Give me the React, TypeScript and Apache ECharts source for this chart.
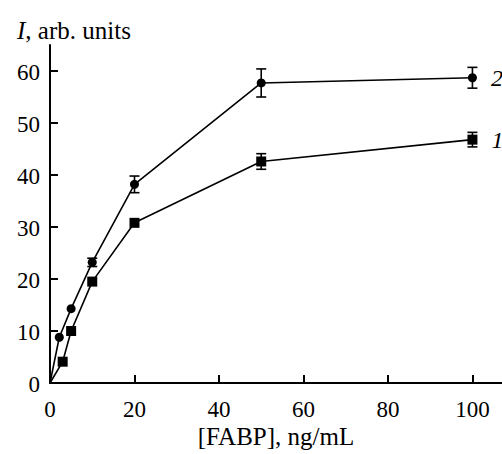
import React, { useEffect, useRef } from "react";
import * as echarts from "echarts";

const xTicks = [0, 20, 40, 60, 80, 100];
const yTicks = [0, 10, 20, 30, 40, 50, 60];

// Curve 1 (squares)
const x1 = [3, 5, 10, 20, 50, 100];
const y1 = [4.1, 10.0, 19.5, 30.8, 42.6, 46.8];
const e1 = [0, 0, 0, 0, 1.5, 1.4];

// Curve 2 (circles)
const x2 = [2.2, 5, 10, 20, 50, 100];
const y2 = [8.8, 14.3, 23.2, 38.2, 57.7, 58.7];
const e2 = [0, 0, 0.8, 1.6, 2.7, 2.0];

const FONT = "Liberation Serif";

function lineData(xs: number[], ys: number[], label: string) {
  const d: any[] = [{ value: [0, 0], symbol: "none" }];
  xs.forEach((x, i) => {
    const item: any = { value: [x, ys[i]] };
    if (i === xs.length - 1) {
      item.label = {
        show: true,
        formatter: label,
        position: "right",
        distance: 14,
        fontFamily: FONT,
        fontStyle: "italic",
        fontSize: 24,
        color: "#000",
      };
    }
    d.push(item);
  });
  return d;
}

function errData(xs: number[], ys: number[], es: number[]) {
  return xs
    .map((x, i) => [x, ys[i], es[i]])
    .filter((d) => d[2] > 0);
}

const renderErr = (params: any, api: any) => {
  const x = api.value(0);
  const y = api.value(1);
  const e = api.value(2);
  const top = api.coord([x, y + e]);
  const bot = api.coord([x, y - e]);
  const hw = 5;
  const style = { stroke: "#000", lineWidth: 1.6 };
  return {
    type: "group",
    children: [
      { type: "line", shape: { x1: top[0], y1: top[1], x2: bot[0], y2: bot[1] }, style },
      { type: "line", shape: { x1: top[0] - hw, y1: top[1], x2: top[0] + hw, y2: top[1] }, style },
      { type: "line", shape: { x1: bot[0] - hw, y1: bot[1], x2: bot[0] + hw, y2: bot[1] }, style },
    ],
  };
};

const renderXLabel = (params: any, api: any) => {
  const v = api.value(0);
  const p = api.coord([v, 0]);
  return {
    type: "text",
    x: p[0],
    y: p[1] + 26,
    style: {
      text: String(v),
      font: "23px Liberation Serif",
      fill: "#000",
      align: "center",
      verticalAlign: "middle",
    },
  };
};

const renderYLabel = (params: any, api: any) => {
  const v = api.value(1);
  const p = api.coord([0, v]);
  return {
    type: "text",
    x: p[0] - 10,
    y: p[1] + 1,
    style: {
      text: String(v),
      font: "23px Liberation Serif",
      fill: "#000",
      align: "right",
      verticalAlign: "middle",
    },
  };
};

export default function App() {
  const ref = useRef<HTMLDivElement>(null);
  useEffect(() => {
    if (!ref.current) return;
    const chart = echarts.init(ref.current, null, { renderer: "svg" });
    const axisCommon = {
      axisLine: { show: true, lineStyle: { color: "#000", width: 2 } },
      axisTick: { show: true, inside: true, length: 8, lineStyle: { color: "#000", width: 2 } },
      splitLine: { show: false },
      axisLabel: { show: false },
    };
    chart.setOption({
      animation: false,
      backgroundColor: "#fff",
      textStyle: { fontFamily: FONT },
      title: {
        text: "{i|I}, arb. units",
        left: 12,
        top: 13,
        textStyle: {
          fontFamily: FONT,
          fontSize: 25,
          fontWeight: "normal",
          color: "#000",
          rich: {
            i: { fontFamily: FONT, fontSize: 25, fontStyle: "italic", color: "#000" },
          },
        },
      },
      grid: { left: 50, right: 0, top: 45, bottom: 69, containLabel: false },
      xAxis: {
        type: "value",
        min: 0,
        max: 107,
        interval: 20,
        ...axisCommon,
        axisTick: { ...axisCommon.axisTick, customValues: xTicks },
        name: "[FABP], ng/mL",
        nameLocation: "middle",
        nameGap: 41,
        nameTextStyle: { fontFamily: FONT, fontSize: 25, color: "#000" },
      },
      yAxis: {
        type: "value",
        min: 0,
        max: 65,
        interval: 10,
        ...axisCommon,
        axisTick: { ...axisCommon.axisTick, customValues: yTicks },
      },
      series: [
        {
          type: "line",
          data: lineData(x1, y1, "1"),
          symbol: "rect",
          symbolSize: 10,
          itemStyle: { color: "#000" },
          lineStyle: { color: "#000", width: 1.6 },
          z: 3,
        },
        {
          type: "line",
          data: lineData(x2, y2, "2"),
          symbol: "circle",
          symbolSize: 9,
          itemStyle: { color: "#000" },
          lineStyle: { color: "#000", width: 1.6 },
          z: 3,
        },
        {
          type: "custom",
          renderItem: renderErr,
          data: errData(x1, y1, e1),
          z: 4,
        },
        {
          type: "custom",
          renderItem: renderErr,
          data: errData(x2, y2, e2),
          z: 4,
        },
        {
          type: "custom",
          renderItem: renderXLabel,
          data: xTicks.map((v) => [v, 0]),
          clip: false,
          z: 5,
        },
        {
          type: "custom",
          renderItem: renderYLabel,
          data: yTicks.map((v) => [0, v]),
          clip: false,
          z: 5,
        },
      ],
    });
    return () => chart.dispose();
  }, []);
  return (
    <div
      ref={ref}
      style={{ position: "fixed", left: 0, top: 0, width: 502, height: 454 }}
    />
  );
}
